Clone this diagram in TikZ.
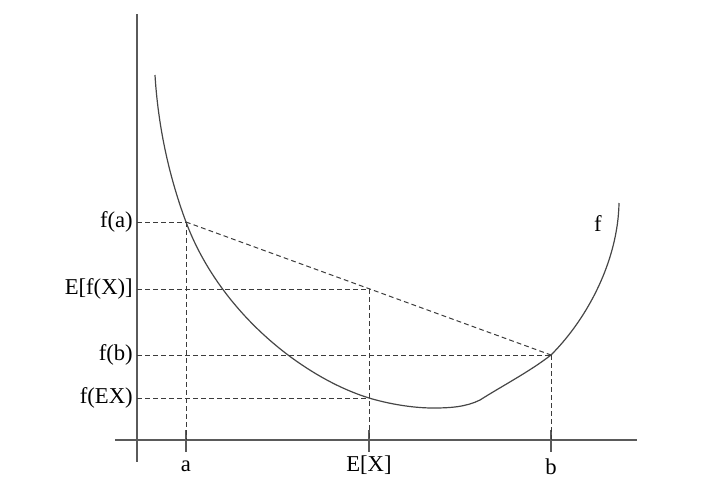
\documentclass[tikz,border=0pt]{standalone}
\usepackage{fontspec}
\setmainfont{Liberation Serif}
\usetikzlibrary{positioning}

\tikzset{
  axisline/.style={line width=0.9, draw={rgb,255:red,90;green,90;blue,90}},
  guideline/.style={line width=0.75, dash pattern=on 3.6pt off 2.4pt, draw={rgb,255:red,60;green,60;blue,60}},
  curveline/.style={line width=0.9, draw={rgb,255:red,70;green,70;blue,70}},
  lbl/.style={inner sep=0.75pt, font=\fontsize{17}{20}\selectfont}
}

\begin{document}
\begin{tikzpicture}[x=0.75pt,y=0.75pt,yscale=-1,xscale=1]
  \useasboundingbox (0,0) rectangle (702,496);

  % points on the curve and on the axes
  \coordinate (Pa) at (186,222);
  \coordinate (Pm) at (369,289);
  \coordinate (Pb) at (551,355);
  \coordinate (Pe) at (369,398);
  \coordinate (Ya) at (137,222);
  \coordinate (Ym) at (137,289);
  \coordinate (Yb) at (137,355);
  \coordinate (Ye) at (137,398);
  \coordinate (Xa) at (186,440);
  \coordinate (Xm) at (369,440);
  \coordinate (Xb) at (551,440);

  %Axes
  \draw [axisline] (137,14) -- (137,462);
  \draw [axisline] (115,440) -- (637,440);
  %Ticks
  \draw [axisline] (186,430) -- (186,452);
  \draw [axisline] (369,430) -- (369,452);
  \draw [axisline] (551,430) -- (551,452);

  %Curve f
  \draw [curveline] (155,75) .. controls (158,125) and (168.5,175) .. (186,222)
    .. controls (205.6,274.6) and (243,321) .. (288,355)
    .. controls (312,373) and (340,389) .. (369,398)
    .. controls (389,404) and (413,408) .. (433,408)
    .. controls (450,408) and (466,407) .. (480,400)
    .. controls (502,386) and (529,372) .. (551,355)
    .. controls (588,318) and (618,260) .. (619,203);

  %Dashed guides
  \draw [guideline] (Ya) -- (Pa);
  \draw [guideline] (Ym) -- (Pm);
  \draw [guideline] (Yb) -- (Pb);
  \draw [guideline] (Ye) -- (Pe);
  \draw [guideline] (Pa) -- (Xa);
  \draw [guideline] (Pm) -- (Xm);
  \draw [guideline] (Pb) -- (Xb);
  \draw [guideline] (Pa) -- (Pb);

  % Text Node
  \node (fa) [lbl, anchor=east] at (134,222) {f(a)};
  % Text Node
  \node (efx) [lbl, anchor=east] at (134,289) {E[f(X)]};
  % Text Node
  \node (fb) [lbl, anchor=east] at (134,355) {f(b)};
  % Text Node
  \node (fex) [lbl, anchor=east] at (134,398) {f(EX)};
  % Text Node
  \node (la) [lbl] at (186,466) {a};
  % Text Node
  \node (lex) [lbl] at (369,465) {E[X]};
  % Text Node
  \node (lb) [lbl] at (551,467) {b};
  % Text Node
  \node (lf) [lbl] at (598,224) {f};
\end{tikzpicture}
\end{document}
